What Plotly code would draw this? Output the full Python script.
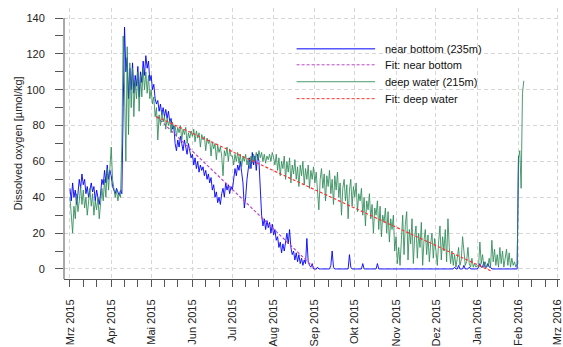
import pandas as pd
import plotly.graph_objects as go

# ---------------------------------------------------------------------------
# Daily dissolved-oxygen readings [µmol/kg], one list per calendar month
# (first value = 1st of the month)
# ---------------------------------------------------------------------------
month_labels = ["Mrz 2015", "Apr 2015", "Mai 2015", "Jun 2015", "Jul 2015", "Aug 2015",
                "Sep 2015", "Okt 2015", "Nov 2015", "Dez 2015", "Jan 2016", "Feb 2016",
                "Mrz 2016"]

near_2015_03 = [45, 38, 48, 40, 44, 36, 42, 50, 45, 53, 47, 50, 42, 46, 40, 44, 48, 43, 46, 38,
                44, 40, 36, 42, 50, 47, 55, 48, 58, 50, 55]
near_2015_04 = [52, 46, 44, 42, 45, 43, 41, 44, 42, 90, 135, 110, 118, 95, 112, 100, 115, 98, 108, 102,
                113, 96, 110, 104, 116, 108, 119, 112, 116, 105]
near_2015_05 = [108, 100, 103, 95, 92, 94, 88, 92, 86, 90, 85, 89, 84, 88, 82, 84, 78, 80, 70, 66,
                72, 68, 74, 70, 66, 72, 68, 64, 70, 66, 62]
near_2015_06 = [64, 58, 62, 56, 60, 54, 58, 55, 57, 52, 55, 50, 53, 48, 51, 44, 47, 40, 43, 37,
                40, 36, 42, 45, 40, 48, 44, 47, 42, 46]
near_2015_07 = [44, 50, 56, 52, 58, 55, 60, 54, 48, 34, 40, 50, 58, 62, 56, 65, 58, 63, 55, 64,
                60, 45, 30, 24, 28, 22, 27, 23, 26, 20, 25]
near_2015_08 = [19, 22, 16, 18, 12, 15, 9, 14, 10, 16, 20, 14, 22, 12, 8, 10, 5, 9, 4, 8,
                3, 6, 2, 5, 3, 17, 4, 2, 1, 3, 0]
near_2015_09 = [0, 0, 1, 0, 0, 0, 0, 0, 0, 0, 0, 0, 2, 10, 1, 0, 0, 0, 0, 0,
                0, 0, 0, 0, 0, 0, 8, 1, 0, 0]
near_2015_10 = [0, 0, 0, 0, 0, 0, 3, 0, 0, 0, 0, 0, 0, 0, 0, 0, 0, 3, 0, 0,
                0, 0, 0, 0, 0, 0, 0, 0, 0, 0, 0]
near_2015_11 = [0, 0, 0, 0, 0, 0, 0, 0, 0, 0, 0, 0, 0, 0, 0, 0, 0, 0, 0, 0,
                0, 0, 0, 0, 0, 0, 0, 0, 0, 0]
near_2015_12 = [0, 0, 0, 0, 0, 0, 0, 0, 0, 0, 0, 0, 0, 0, 1, 0, 0, 2, 0, 0,
                0, 2, 0, 0, 0, 1, 0, 0, 0, 0, 0]
near_2016_01 = [0, 1, 3, 1, 1, 4, 1, 1, 3, 1, 1, 0, 0, 0, 0, 0, 0, 0, 0, 0,
                0, 0, 0, 0, 0, 0, 0, 0, 0, 0, 0]
near_2016_02 = [63]

deep_2015_03 = [40, 30, 20, 35, 28, 42, 32, 38, 46, 36, 44, 34, 40, 30, 38, 45, 35, 42, 30, 38,
                33, 40, 28, 36, 45, 38, 50, 40, 56, 44, 60]
deep_2015_04 = [68, 50, 45, 40, 44, 38, 42, 40, 70, 130, 100, 60, 124, 75, 115, 90, 112, 85, 105, 95,
                110, 88, 108, 96, 112, 100, 110, 98, 108, 95]
deep_2015_05 = [100, 92, 96, 85, 90, 72, 86, 80, 88, 82, 85, 78, 84, 80, 83, 76, 82, 78, 80, 74,
                79, 76, 80, 72, 78, 75, 79, 70, 76, 73, 77]
deep_2015_06 = [74, 78, 71, 77, 73, 76, 68, 75, 72, 74, 66, 73, 70, 72, 63, 71, 67, 70, 61, 69,
                65, 68, 63, 52, 66, 63, 68, 60, 67, 63]
deep_2015_07 = [63, 58, 64, 60, 65, 59, 64, 57, 63, 60, 64, 58, 62, 56, 63, 59, 64, 60, 65, 61,
                66, 62, 65, 60, 64, 59, 63, 61, 64, 60, 65]
deep_2015_08 = [62, 58, 64, 55, 62, 52, 60, 56, 63, 50, 60, 54, 62, 48, 58, 53, 61, 50, 57, 46,
                58, 52, 60, 47, 56, 50, 58, 45, 55, 50, 57]
deep_2015_09 = [48, 54, 40, 33, 50, 56, 45, 53, 38, 52, 46, 55, 42, 50, 36, 52, 44, 54, 40, 48,
                30, 45, 50, 38, 47, 28, 44, 50, 35, 46]
deep_2015_10 = [40, 48, 32, 42, 38, 45, 30, 40, 24, 38, 33, 42, 28, 36, 20, 34, 30, 38, 22, 35,
                18, 30, 26, 34, 20, 32, 15, 28, 22, 30, 10]
deep_2015_11 = [18, 3, 12, 2, 20, 30, 8, 25, 32, 5, 22, 14, 28, 3, 18, 24, 6, 20, 12, 26,
                2, 16, 22, 8, 19, 4, 14, 20, 6, 17]
deep_2015_12 = [10, 2, 15, 24, 5, 18, 10, 22, 4, 28, 12, 3, 10, 2, 8, 1, 6, 12, 2, 5,
                18, 9, 2, 4, 12, 3, 1, 6, 1, 3, 1]
deep_2016_01 = [2, 1, 15, 3, 8, 1, 4, 1, 2, 6, 1, 16, 4, 11, 2, 8, 1, 12, 3, 10,
                1, 7, 11, 2, 9, 1, 6, 2, 4, 1, 3]
deep_2016_02 = [62, 66, 45, 98, 105]

# Linear decline fits (start / end)
fit_near_dates = ["2015-05-05", "2015-09-02"]
fit_near_vals = [85, -0.5]
fit_deep_dates = ["2015-05-05", "2016-01-11"]
fit_deep_vals = [85, -1]

near_months = [near_2015_03, near_2015_04, near_2015_05, near_2015_06, near_2015_07, near_2015_08,
               near_2015_09, near_2015_10, near_2015_11, near_2015_12, near_2016_01, near_2016_02]
deep_months = [deep_2015_03, deep_2015_04, deep_2015_05, deep_2015_06, deep_2015_07, deep_2015_08,
               deep_2015_09, deep_2015_10, deep_2015_11, deep_2015_12, deep_2016_01, deep_2016_02]

month_starts = pd.date_range("2015-03-01", "2016-03-01", freq="MS")


def stitch(chunks):
    xs, ys = [], []
    for start, vals in zip(month_starts, chunks):
        xs += list(pd.date_range(start, periods=len(vals), freq="D"))
        ys += vals
    return xs, ys


near_x, near_y = stitch(near_months)
deep_x, deep_y = stitch(deep_months)

BLUE = "rgb(0,0,255)"
GREEN = "rgba(46,139,87,0.85)"
FIT_NEAR = "rgb(190,70,200)"
FIT_DEEP = "rgb(255,50,50)"
AXIS = "#555555"
GRID = "#D6D6D6"
FONT = "Liberation Sans, Arial, sans-serif"

fig = go.Figure()
fig.add_trace(go.Scatter(x=near_x, y=near_y, mode="lines",
                         line=dict(color=BLUE, width=0.9), name="near bottom (235m)"))
fig.add_trace(go.Scatter(x=fit_near_dates, y=fit_near_vals, mode="lines",
                         line=dict(color=FIT_NEAR, width=1.2, dash="3px,2px"), name="Fit: near bottom"))
fig.add_trace(go.Scatter(x=deep_x, y=deep_y, mode="lines",
                         line=dict(color=GREEN, width=1), name="deep water (215m)"))
fig.add_trace(go.Scatter(x=fit_deep_dates, y=fit_deep_vals, mode="lines",
                         line=dict(color=FIT_DEEP, width=1.2, dash="3px,2px"), name="Fit: deep water"))

# plot area geometry in pixels
W, H = 563, 347
L, R, T, B = 64, 0, 8, 67
PW, PH = W - L - R, H - T - B


def px_x(px):
    return (px - L) / PW


def px_y(py):
    return (H - B - py) / PH


# minor date ticks on the 11th and 21st
minor_ticks = []
for ms in pd.date_range("2015-03-01", "2016-02-01", freq="MS"):
    minor_ticks += [ms + pd.Timedelta(days=10), ms + pd.Timedelta(days=20)]

shapes = [
    # legend background
    dict(type="rect", xref="paper", yref="paper", x0=px_x(290), x1=px_x(490),
         y0=px_y(113), y1=px_y(37), fillcolor="white", line=dict(width=0), layer="between"),
    # y axis line (ticks run from 0 to 140, line reaches the x axis)
    dict(type="line", xref="paper", yref="y", x0=0, x1=0, y0=-5.6, y1=140,
         line=dict(color=AXIS, width=1)),
]
annotations = [
    dict(text="Dissolved oxygen [µmol/kg]", xref="paper", yref="paper", x=0, y=0.5,
         xshift=-47, textangle=-90, showarrow=False, xanchor="center", yanchor="middle",
         font=dict(family=FONT, size=11, color="#222")),
]

legend_rows = [
    ("near bottom (235m)", BLUE, "solid", 49),
    ("Fit: near bottom", FIT_NEAR, "3px,2px", 65),
    ("deep water (215m)", GREEN, "solid", 82),
    ("Fit: deep water", FIT_DEEP, "3px,2px", 99),
]
for label, color, dash, py in legend_rows:
    shapes.append(dict(type="line", xref="paper", yref="paper", x0=px_x(298), x1=px_x(377),
                       y0=px_y(py), y1=px_y(py), line=dict(color=color, width=1, dash=dash)))
    annotations.append(dict(text=label, xref="paper", yref="paper", x=px_x(385), y=px_y(py),
                            xanchor="left", yanchor="middle", showarrow=False,
                            font=dict(family=FONT, size=11, color="#111")))

fig.update_layout(
    width=W, height=H,
    margin=dict(l=L, r=R, t=T, b=B),
    paper_bgcolor="white", plot_bgcolor="white",
    showlegend=False,
    font=dict(family=FONT, size=11, color="#222"),
    shapes=shapes, annotations=annotations,
    xaxis=dict(
        range=["2015-02-24 12:30", "2016-03-03 04:30"],
        tickmode="array", tickvals=list(month_starts), ticktext=month_labels,
        tickangle=-90, ticks="outside", ticklen=7, tickwidth=1, tickcolor=AXIS,
        ticklabelstandoff=8, ticklabeloverflow="allow",
        showline=True, linecolor=AXIS, linewidth=1,
        showgrid=True, gridcolor=GRID, griddash="4px,3px", gridwidth=1,
        zeroline=False,
        minor=dict(tickmode="array", tickvals=minor_ticks, ticks="outside", ticklen=7,
                   tickwidth=1, tickcolor=AXIS, showgrid=False),
        tickfont=dict(family=FONT, size=11, color="#222"),
    ),
    yaxis=dict(
        range=[-5.6, 145.6],
        tickmode="array", tickvals=list(range(0, 141, 20)),
        ticks="outside", ticklen=8, tickwidth=1, tickcolor=AXIS,
        ticklabelstandoff=8,
        showline=False,
        showgrid=True, gridcolor=GRID, griddash="4px,3px", gridwidth=1,
        zeroline=False,
        minor=dict(tickmode="array", tickvals=list(range(10, 140, 20)), ticks="outside",
                   ticklen=8, tickwidth=1, tickcolor=AXIS, showgrid=False),
        tickfont=dict(family=FONT, size=11, color="#222"),
    ),
)

fig.write_html("out.html")
